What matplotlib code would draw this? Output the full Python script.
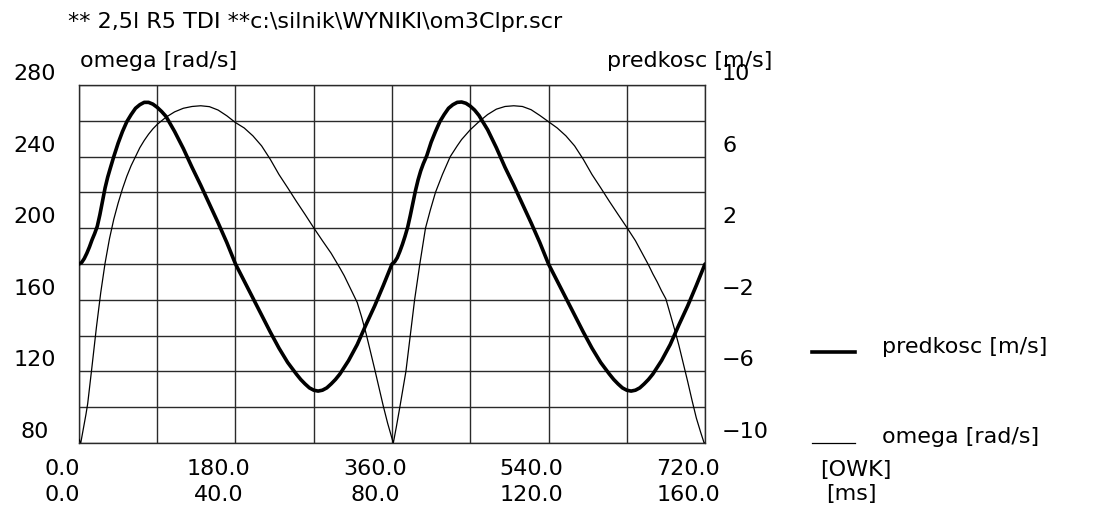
import numpy as np
import matplotlib
matplotlib.use("Agg")
import matplotlib.pyplot as plt
from matplotlib.transforms import offset_copy, blended_transform_factory

# kat obrotu walu [OWK] i predkosc [m/s] (gruba linia, os prawa)
kat_pred = [0, 3, 6, 9, 12, 15, 18, 21, 24, 27, 30, 33, 36, 40, 45, 50, 55, 60, 65, 70,
            75, 80, 85, 90, 95, 100, 110, 120, 130, 140, 150, 160, 170, 180, 190, 200,
            210, 220, 230, 240, 250, 255, 260, 265, 270, 275, 280, 285, 290, 295, 300,
            310, 320, 330, 340, 350, 355, 360,
            363, 366, 369, 372, 375, 378, 381, 384, 387, 390, 393, 396, 400, 405, 410,
            415, 420, 425, 430, 435, 440, 445, 450, 455, 460, 470, 480, 490, 500, 510,
            520, 530, 540, 550, 560, 570, 580, 590, 600, 610, 615, 620, 625, 630, 635,
            640, 645, 650, 655, 660, 670, 680, 690, 700, 710, 715, 720]
predkosc = [0, 0.08, 0.3, 0.6, 0.95, 1.35, 1.7, 2.1, 2.75, 3.5, 4.25, 4.85, 5.35, 6.0,
            6.75, 7.4, 7.95, 8.35, 8.7, 8.9, 9.03, 9.03, 8.93, 8.75, 8.52, 8.25, 7.4,
            6.45, 5.4, 4.4, 3.35, 2.3, 1.2, 0, -0.95, -1.9, -2.85, -3.8, -4.7, -5.5,
            -6.15, -6.45, -6.7, -6.92, -7.05, -7.1, -7.05, -6.92, -6.7, -6.45, -6.15,
            -5.4, -4.5, -3.4, -2.35, -1.2, -0.6, 0,
            0.12, 0.35, 0.7, 1.1, 1.55, 2.05, 2.7, 3.4, 4.1, 4.7, 5.2, 5.6, 6.05, 6.8,
            7.4, 7.95, 8.35, 8.7, 8.9, 9.03, 9.05, 8.98, 8.82, 8.6, 8.3, 7.5, 6.5, 5.4,
            4.4, 3.35, 2.3, 1.2, 0, -0.95, -1.9, -2.85, -3.8, -4.7, -5.5, -6.15, -6.45,
            -6.7, -6.92, -7.05, -7.1, -7.05, -6.92, -6.7, -6.45, -6.15, -5.4, -4.5,
            -3.4, -2.35, -1.2, -0.6, 0]

# predkosc katowa omega [rad/s] (cienka linia, os lewa)
kat_omega = [0, 2, 5, 8, 10, 15, 20, 25, 30, 35, 40, 45, 50, 55, 60, 65, 70, 75, 80, 85,
             90, 100, 110, 120, 130, 140, 150, 160, 170, 180, 190, 200, 210, 220, 230,
             240, 250, 260, 270, 280, 290, 300, 305, 310, 315, 320, 325, 330, 335, 340,
             345, 350, 355, 361.5,
             365, 369, 372.5, 376, 381, 386, 392, 398.5, 404, 410, 418, 427, 435, 440,
             450, 460, 470, 480, 490, 500, 510, 520, 530, 540, 550, 560, 570, 580, 590,
             600, 610, 620, 630, 640, 650, 655, 660, 665, 670, 675, 680, 685, 690, 695,
             700, 705, 710, 715, 719, 720]
omega = [82, 80, 88, 96, 102, 123, 144.5, 164, 180.5, 194, 205, 214, 222, 229, 235, 240,
         245, 249, 252.5, 255.5, 258, 262, 265, 267, 268, 268.4, 267.9, 266, 262.8, 259,
         256, 251.6, 246, 238.5, 230, 222.6, 215, 207.7, 200.2, 193, 186, 177.8, 173.5,
         168.5, 163.5, 158.5, 150.5, 141.5, 131.5, 121.4, 111, 100.6, 91, 80,
         89, 100, 110, 120, 140, 160, 180, 200, 210, 220, 230, 240, 246, 249.5, 255,
         259.5, 263.5, 266.5, 268, 268.4, 268, 266.2, 263, 259.5, 256, 251.6, 246,
         238.5, 230, 222.6, 215, 207.7, 200.5, 193, 184, 179.5, 174.5, 170, 165, 160.5,
         152, 143.5, 134.5, 124.5, 114.5, 104, 94, 86, 80, 80]

x_grid = [0, 90, 180, 270, 360, 450, 540, 630, 720]
x_ticks = [0, 180, 360, 540, 720]
x_labels_owk = ["0.0", "180.0", "360.0", "540.0", "720.0"]
x_labels_ms = ["0.0", "40.0", "80.0", "120.0", "160.0"]
y_left_ticks = [80, 120, 160, 200, 240, 280]
y_right_ticks = [10, 6, 2, -2, -6, -10]

FS = 16
W, H = 1106, 511
fig = plt.figure(figsize=(W / 100, H / 100), dpi=100)
ax = fig.add_axes([79 / W, 1 - 443 / H, (705 - 79) / W, (443 - 85) / H])
ax.set_xlim(0, 720)
ax.set_ylim(80, 280)
ax.set_xticks(x_grid)
ax.set_yticks(np.arange(80, 281, 20))
ax.grid(True, color="#2a2a2a", lw=1.0)
ax.tick_params(length=0, labelbottom=False, labelleft=False)
for s in ax.spines.values():
    s.set_color("#2a2a2a")
    s.set_linewidth(1.0)

ax.plot(kat_omega, omega, color="black", lw=0.9, zorder=3)

ax2 = ax.twinx()
ax2.set_ylim(-10, 10)
ax2.tick_params(length=0, labelright=False)
for s in ax2.spines.values():
    s.set_visible(False)
ax2.plot(kat_pred, predkosc, color="black", lw=2.6, solid_capstyle="round",
         solid_joinstyle="round", zorder=4)

# opisy osi Y
trL = blended_transform_factory(fig.transFigure, ax.transData)
for v in y_left_ticks:
    ax.text(35 / W, v, str(v), transform=offset_copy(trL, fig=fig, x=0, y=1, units="dots"),
            ha="center", va="bottom", fontsize=FS, clip_on=False)
trR = blended_transform_factory(fig.transFigure, ax2.transData)
for v in y_right_ticks:
    lab = str(v).replace("-", "\u2212")
    ax2.text(722 / W, v, lab, transform=offset_copy(trR, fig=fig, x=0, y=1, units="dots"),
             ha="left", va="bottom", fontsize=FS, clip_on=False)

# opisy osi X (dwa wiersze)
trX = blended_transform_factory(ax.transData, fig.transFigure)
for xv, a, b in zip(x_ticks, x_labels_owk, x_labels_ms):
    t = offset_copy(trX, fig=fig, x=-17, y=0, units="dots")
    ax.text(xv, 1 - 469 / H, a, transform=t, ha="center", va="center", fontsize=FS, clip_on=False)
    ax.text(xv, 1 - 495 / H, b, transform=t, ha="center", va="center", fontsize=FS, clip_on=False)
fig.text(820 / W, 1 - 470 / H, "[OWK]", ha="left", va="center", fontsize=FS)
fig.text(826 / W, 1 - 494 / H, "[ms]", ha="left", va="center", fontsize=FS)

# naglowki
fig.text(68 / W, 1 - 22 / H, "** 2,5l R5 TDI **c:\\silnik\\WYNIKI\\om3Clpr.scr",
         ha="left", va="center", fontsize=FS)
fig.text(80 / W, 1 - 61 / H, "omega [rad/s]", ha="left", va="center", fontsize=FS)
fig.text(607 / W, 1 - 61 / H, "predkosc [m/s]", ha="left", va="center", fontsize=FS)

# legenda
fig.add_artist(plt.Line2D([812 / W, 855 / W], [1 - 352 / H, 1 - 352 / H], color="black", lw=2.6))
fig.add_artist(plt.Line2D([812 / W, 855 / W], [1 - 443 / H, 1 - 443 / H], color="black", lw=0.9))
fig.text(882 / W, 1 - 347 / H, "predkosc [m/s]", ha="left", va="center", fontsize=FS)
fig.text(882 / W, 1 - 437 / H, "omega [rad/s]", ha="left", va="center", fontsize=FS)

fig.savefig("out.png", dpi=100)
